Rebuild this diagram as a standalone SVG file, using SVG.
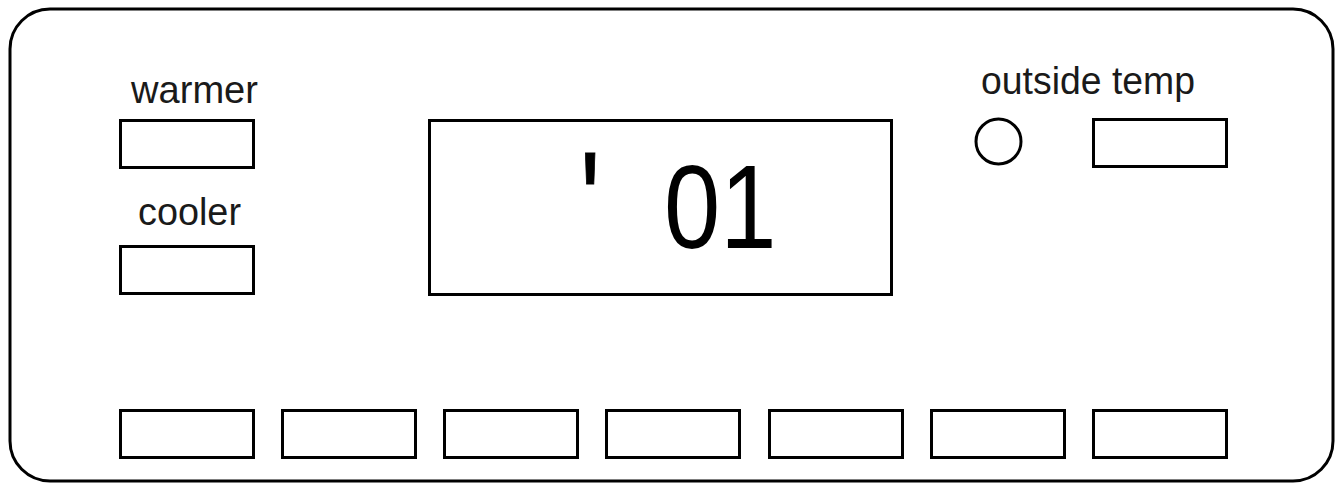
<svg xmlns="http://www.w3.org/2000/svg" width="1343" height="484" viewBox="0 0 1343 484">
<style>
.box{fill:#fff;stroke:#000;stroke-width:3}
.lbl{font-family:"Liberation Sans",Arial,sans-serif;font-size:39px;fill:#1a1a1a}
.big{font-family:"Liberation Sans",Arial,sans-serif;fill:#000}
</style>
<rect x="0" y="0" width="1343" height="484" fill="#fff"/>
<g id="panel"><rect x="10" y="9" width="1323" height="472" rx="40" ry="40" fill="#fff" stroke="#000" stroke-width="3"/></g>
<g id="warmer">
<text class="lbl" x="131" y="103" textLength="127" lengthAdjust="spacingAndGlyphs">warmer</text>
<rect class="box" x="120.5" y="120.5" width="133" height="47"/>
</g>
<g id="cooler">
<text class="lbl" x="138" y="225" textLength="103" lengthAdjust="spacingAndGlyphs">cooler</text>
<rect class="box" x="120.5" y="246.5" width="133" height="47"/>
</g>
<g id="display">
<rect class="box" x="429.5" y="120.5" width="462" height="174"/>
<text class="big" font-size="142" stroke="#000" stroke-width="1" transform="translate(580,252) scale(0.75,1)">'</text>
<text class="big" font-size="119" transform="translate(664,248) scale(0.85,1)">01</text>
</g>
<g id="outside-temp">
<text class="lbl" x="981" y="94" textLength="214" lengthAdjust="spacingAndGlyphs">outside temp</text>
<circle class="box" cx="998.5" cy="141.5" r="22.5"/>
<rect class="box" x="1093.5" y="119.5" width="133" height="47"/>
</g>
<g id="buttons">
<rect class="box" x="120.5" y="410.5" width="133" height="47"/>
<rect class="box" x="282.5" y="410.5" width="133" height="47"/>
<rect class="box" x="444.5" y="410.5" width="133" height="47"/>
<rect class="box" x="606.5" y="410.5" width="133" height="47"/>
<rect class="box" x="769.5" y="410.5" width="133" height="47"/>
<rect class="box" x="931.5" y="410.5" width="133" height="47"/>
<rect class="box" x="1093.5" y="410.5" width="133" height="47"/>
</g>
<g id="connectors"/>
</svg>
